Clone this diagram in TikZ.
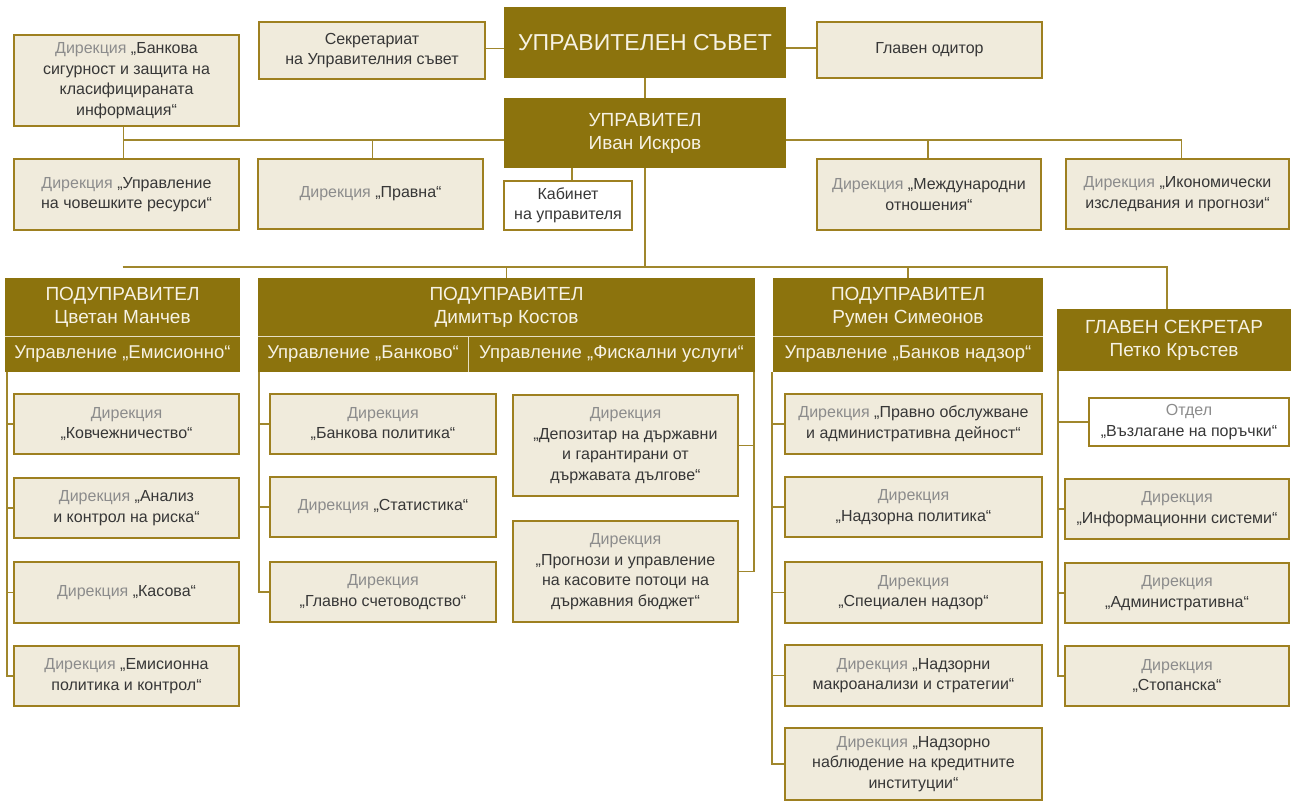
\documentclass[tikz,border=0pt]{standalone}
\usepackage{fontspec}
\setmainfont{Liberation Sans}
\usetikzlibrary{backgrounds}
\definecolor{hdr}{RGB}{140,115,13}
\definecolor{bge}{RGB}{240,235,220}
\definecolor{brd}{RGB}{158,128,32}
\definecolor{lin}{RGB}{160,135,45}
\definecolor{txt}{RGB}{55,55,55}
\definecolor{dgr}{RGB}{140,140,140}
\definecolor{htx}{RGB}{246,242,228}
\newcommand\dir{\textcolor{dgr}{Дирекция}}
\newcommand\otd{\textcolor{dgr}{Отдел}}
\newcommand\obox[7]{\node[#2,minimum width={#5-#3},minimum height={#6-#4}] (#1) at ({(#3+#5)/2},{(#4+#6)/2}) {#7};}
\tikzset{
  box/.style={draw=brd,fill=bge,line width=1.2pt,align=center,text=txt,inner sep=1pt,font=\fontsize{16}{20.5}\selectfont},
  wbox/.style={box,fill=white},
  hbox/.style={fill=hdr,text=htx,align=center,inner sep=1pt,font=\fontsize{19}{23}\selectfont},
  sbox/.style={hbox,font=\fontsize{18.5}{22}\selectfont},
  tbox/.style={hbox,font=\fontsize{23}{27}\selectfont},
  conn/.style={draw=lin,line width=1.2pt},
  sepl/.style={draw=htx!85!hdr,line width=0.9pt},
}
\begin{document}
\begin{tikzpicture}[x=1pt,y=-1pt]
\useasboundingbox (0,0) rectangle (1295,802);
% top level
\obox{sec}{box}{259}{22}{485}{79}{Секретариат\\на Управителния съвет}
\obox{us}{tbox}{504}{7}{786}{78}{УПРАВИТЕЛЕН СЪВЕТ}
\obox{aud}{box}{817}{22}{1042}{78}{Главен одитор}
\obox{upr}{hbox}{504}{98}{786}{168}{УПРАВИТЕЛ\\Иван Искров}
\obox{bsz}{box}{14}{35}{239}{126}{\dir{} „Банкова\\сигурност и защита на\\класифицираната\\информация“}
\obox{hr}{box}{14}{159}{239}{230}{\dir{} „Управление\\на човешките ресурси“}
\obox{legal}{box}{258}{159}{483}{229}{\dir{} „Правна“}
\obox{cab}{wbox}{504}{181}{632}{230}{Кабинет\\на управителя}
\obox{intl}{box}{817}{159}{1041}{230}{\dir{} „Международни\\отношения“}
\obox{econ}{box}{1066}{159}{1289}{229}{\dir{} „Икономически\\изследвания и прогнози“}
% deputies
\obox{p1h}{hbox}{5}{278}{240}{336}{ПОДУПРАВИТЕЛ\\Цветан Манчев}
\obox{p1s}{sbox}{5}{336}{240}{372}{Управление „Емисионно“}
\obox{p2h}{hbox}{258}{278}{755}{336}{ПОДУПРАВИТЕЛ\\Димитър Костов}
\obox{p2a}{sbox}{258}{336}{468}{372}{Управление „Банково“}
\obox{p2b}{sbox}{468}{336}{755}{372}{Управление „Фискални услуги“}
\obox{p3h}{hbox}{773}{278}{1043}{336}{ПОДУПРАВИТЕЛ\\Румен Симеонов}
\obox{p3s}{sbox}{773}{336}{1043}{372}{Управление „Банков надзор“}
\obox{gs}{hbox}{1057}{309}{1291}{371}{ГЛАВЕН СЕКРЕТАР\\Петко Кръстев}
\draw[sepl] (p1h.south west) -- (p1h.south east);
\draw[sepl] (p2h.south west) -- (p2h.south east);
\draw[sepl] (p3h.south west) -- (p3h.south east);
\draw[sepl] (p2a.north east) -- (p2a.south east);
% column 1
\obox{e1}{box}{14}{394}{239}{454}{\dir\\„Ковчежничество“}
\obox{e2}{box}{14}{478}{239}{538}{\dir{} „Анализ\\и контрол на риска“}
\obox{e3}{box}{14}{562}{239}{623}{\dir{} „Касова“}
\obox{e4}{box}{14}{646}{239}{706}{\dir{} „Емисионна\\политика и контрол“}
% column 2a
\obox{b1}{box}{270}{394}{496}{454}{\dir\\„Банкова политика“}
\obox{b2}{box}{270}{477}{496}{537}{\dir{} „Статистика“}
\obox{b3}{box}{270}{562}{496}{622}{\dir\\„Главно счетоводство“}
% column 2b
\obox{f1}{box}{513}{395}{738}{496}{\dir\\„Депозитар на държавни\\и гарантирани от\\държавата дългове“}
\obox{f2}{box}{513}{521}{738}{622}{\dir\\„Прогнози и управление\\на касовите потоци на\\държавния бюджет“}
% column 3
\obox{s1}{box}{785}{394}{1042}{454}{\dir{} „Правно обслужване\\и административна дейност“}
\obox{s2}{box}{785}{477}{1042}{537}{\dir\\„Надзорна политика“}
\obox{s3}{box}{785}{562}{1042}{623}{\dir\\„Специален надзор“}
\obox{s4}{box}{785}{645}{1042}{706}{\dir{} „Надзорни\\макроанализи и стратегии“}
\obox{s5}{box}{785}{728}{1042}{800}{\dir{} „Надзорно\\наблюдение на кредитните\\институции“}
% column 4
\obox{g1}{wbox}{1089}{398}{1289}{446}{\otd\\„Възлагане на поръчки“}
\obox{g2}{box}{1065}{479}{1289}{539}{\dir\\„Информационни системи“}
\obox{g3}{box}{1065}{563}{1289}{623}{\dir\\„Административна“}
\obox{g4}{box}{1065}{646}{1289}{706}{\dir\\„Стопанска“}
% connectors
\coordinate (busA) at (0,140);
\coordinate (busB) at (0,267);
\coordinate (v1) at (7,372);
\coordinate (v2) at (259,372);
\coordinate (v3) at (754,372);
\coordinate (v4) at (772,372);
\coordinate (v5) at (1058,371);
\begin{scope}[on background layer]
\draw[conn] ([yshift=2pt]sec.east) -- ([yshift=2pt]sec.east -| us.west);
\draw[conn] ([yshift=2pt]aud.west) -- ([yshift=2pt]aud.west -| us.east);
\draw[conn] (us.south) -- (upr.north);
\draw[conn] ([xshift=-3pt]bsz.south) -- ([xshift=-3pt]hr.north);
\draw[conn] ([xshift=-3pt]bsz.south |- busA) -- ([xshift=4pt]econ.north |- busA) -- ([xshift=4pt]econ.north);
\draw[conn] ([xshift=2pt]legal.north |- busA) -- ([xshift=2pt]legal.north);
\draw[conn] ([xshift=-1pt]intl.north |- busA) -- ([xshift=-1pt]intl.north);
\draw[conn] ([xshift=4pt]cab.north) -- ([xshift=4pt]cab.north |- upr.south);
\draw[conn] (upr.south) -- (upr.south |- busB);
\draw[conn] (p1h.north |- busB) -- ([xshift=-7pt]gs.north |- busB) -- ([xshift=-7pt]gs.north);
\draw[conn] (p2h.north |- busB) -- (p2h.north);
\draw[conn] (p3h.north |- busB) -- (p3h.north);
% column 1
\draw[conn] (v1) |- (e4.west);
\foreach \n in {e1,e2,e3} \draw[conn] (\n.west) -- (\n.west -| v1);
% column 2a
\draw[conn] (v2) |- (b3.west);
\foreach \n in {b1,b2} \draw[conn] (\n.west) -- (\n.west -| v2);
% column 2b
\draw[conn] (v3) |- (f2.east);
\draw[conn] (f1.east) -- (f1.east -| v3);
% column 3
\draw[conn] (v4) |- (s5.west);
\foreach \n in {s1,s2,s3,s4} \draw[conn] (\n.west) -- (\n.west -| v4);
% column 4
\draw[conn] (v5) |- (g4.west);
\foreach \n in {g1,g2,g3} \draw[conn] (\n.west) -- (\n.west -| v5);
\end{scope}
\end{tikzpicture}
\end{document}
